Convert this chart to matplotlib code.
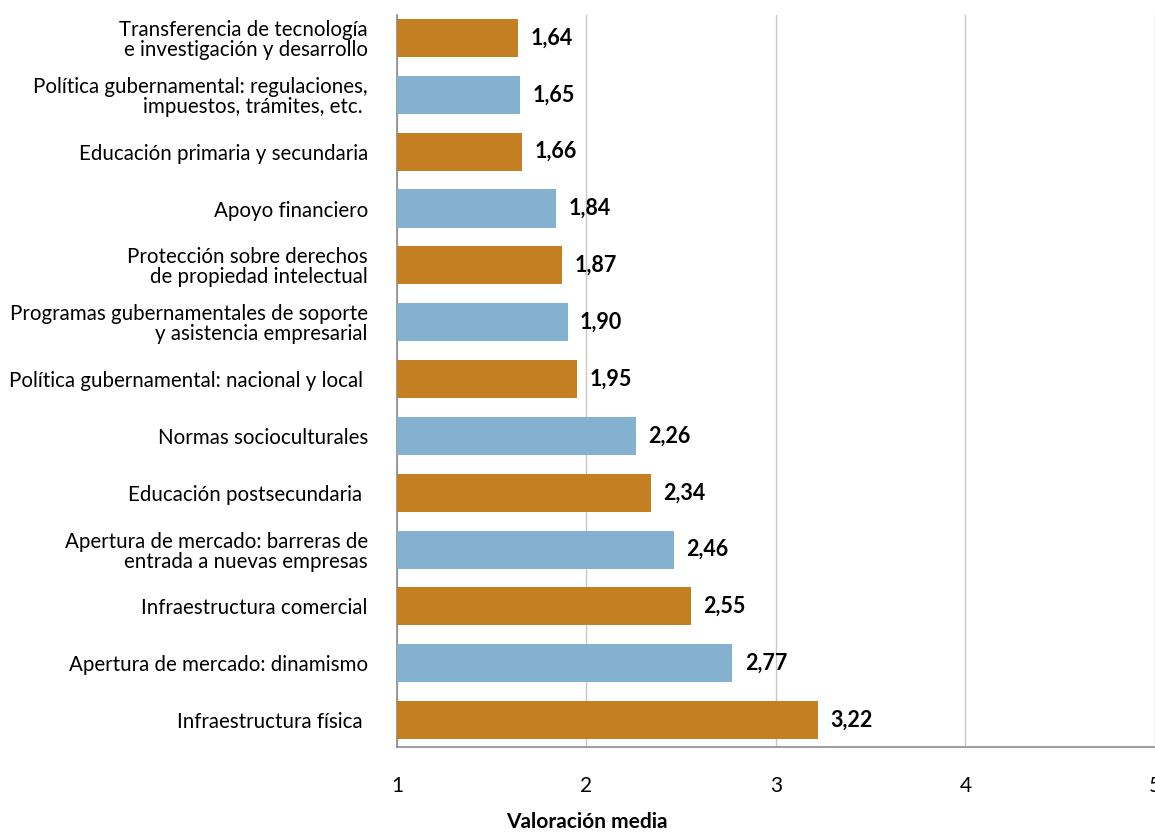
import matplotlib
matplotlib.use('Agg')
import matplotlib.pyplot as plt
import numpy as np

# DATOS
categorias = [
    'Transferencia de tecnología\ne investigación y desarrollo',
    'Política gubernamental: regulaciones,\nimpuestos, trámites, etc. ',
    'Educación primaria y secundaria',
    'Apoyo financiero',
    'Protección sobre derechos\nde propiedad intelectual',
    'Programas gubernamentales de soporte\ny asistencia empresarial',
    'Política gubernamental: nacional y local ',
    'Normas socioculturales',
    'Educación postsecundaria ',
    'Apertura de mercado: barreras de\nentrada a nuevas empresas',
    'Infraestructura comercial',
    'Apertura de mercado: dinamismo',
    'Infraestructura física ',
]
valores = [1.64, 1.65, 1.66, 1.84, 1.87, 1.90, 1.95, 2.26, 2.34, 2.46, 2.55, 2.77, 3.22]
xticks = [1, 2, 3, 4, 5]

naranja = '#C37F22'
azul = '#85B1D0'

plt.rcParams['font.family'] = ['Lato', 'DejaVu Sans']

fig = plt.figure(figsize=(11.55, 8.32), dpi=100)
ax = fig.add_axes([0.3437, 0.102, 0.6563, 0.880])

y = np.arange(len(valores))
colores = [naranja if i % 2 == 0 else azul for i in range(len(valores))]
ax.barh(y, [v - 1 for v in valores], left=1, height=0.67, color=colores, zorder=3)

for yi, v in zip(y, valores):
    ax.annotate('{:.2f}'.format(v).replace('.', ','), (v, yi), xytext=(9, 0),
                textcoords='offset points', va='center', ha='left',
                fontsize=15.5, fontweight='bold', color='black')

ax.set_xlim(1, 5)
ax.set_ylim(12.475, -0.405)
ax.set_yticks(y)
ax.set_yticklabels(categorias, fontsize=14.8, linespacing=1.0)
ax.set_xticks(xticks)
ax.set_xticklabels([str(t) for t in xticks], fontsize=15)
ax.tick_params(axis='y', length=0, pad=21)
ax.tick_params(axis='x', length=0, pad=21)
for lbl in ax.get_yticklabels():
    lbl.set_ha('right')

ax.grid(axis='x', color='#c8c8c8', linewidth=1, zorder=0)
ax.spines['top'].set_visible(False)
ax.spines['right'].set_visible(False)
ax.spines['left'].set_color('#8c8c8c')
ax.spines['bottom'].set_color('#8c8c8c')
ax.spines['left'].set_linewidth(1.2)
ax.spines['bottom'].set_linewidth(1.2)

fig.text(0.508, 0.012, 'Valoración media', ha='center', va='center',
         fontsize=15, fontweight='bold')

fig.savefig('out.png', dpi=100)
